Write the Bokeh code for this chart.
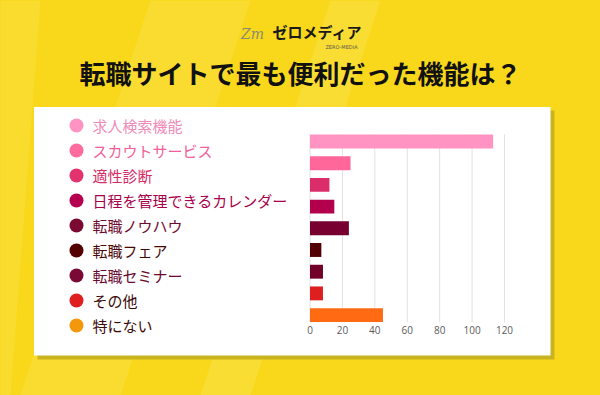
from bokeh.plotting import figure
from bokeh.models import Range1d
from bokeh.core.properties import value
from bokeh.embed import file_html
from bokeh.resources import INLINE

# ---- data ----
categories = ["求人検索機能", "スカウトサービス", "適性診断", "日程を管理できるカレンダー",
              "転職ノウハウ", "転職フェア", "転職セミナー", "その他", "特にない"]
counts = [113, 25, 12, 15, 24, 7, 8, 8, 45]
bar_colors = ["#FF94C2", "#FF6699", "#DC2D6B", "#B3004D", "#780030",
              "#530005", "#700028", "#DD1F1F", "#FF6A12"]
legend_colors = ["#FF94C2", "#FF6B9D", "#E3336F", "#B5004F", "#7B0A32",
                 "#520000", "#7A0A35", "#E02020", "#F3980C"]
text_colors = ["#F08AB8", "#F0609A", "#D42C68", "#A8004A", "#6E0A2E",
               "#4A0505", "#6A0A30", "#3A0A0A", "#3A0A0A"]
tick_values = [0, 20, 40, 60, 80, 100, 120]
tick_labels = [str(t) for t in tick_values]
title_text = "転職サイトで最も便利だった機能は？"

JP = value("Noto Sans CJK JP")
BG = "#F9D81C"
W, H = 600, 395

# page coordinates for decoration
p = figure(width=W, height=H, output_backend="svg", toolbar_location=None,
           x_range=Range1d(0, W), y_range=Range1d(H, 0),
           min_border=0, background_fill_color=BG, border_fill_color=BG)
p.axis.visible = False
p.grid.visible = False
p.outline_line_color = None

# scales for the chart itself
x0_px, x120_px = 309.5, 504.0
px_per_unit = (x120_px - x0_px) / 120
bar_first, bar_step = 141.0, 21.7
leg_first, leg_step = 125.0, 25.0
p.extra_x_ranges = {"vx": Range1d(-x0_px / px_per_unit, (W - x0_px) / px_per_unit)}
p.extra_y_ranges = {
    "vy": Range1d((H - bar_first) / bar_step, -bar_first / bar_step),
    "ly": Range1d((H - leg_first) / leg_step, -leg_first / leg_step),
}

# background light streaks
p.patch([150, 250, 120, 20], [0, 0, 395, 395], color="#FDE65A", alpha=0.35, line_color=None)
p.patch([330, 380, 250, 200], [0, 0, 395, 395], color="#FDE868", alpha=0.3, line_color=None)
p.patch([-40, 40, 10, -70], [0, 0, 395, 395], color="#FDE45A", alpha=0.3, line_color=None)

# card with shadow
p.quad(left=37, right=554, top=110, bottom=359, color="#C9B31E", line_color=None)
p.quad(left=33.5, right=550, top=106.5, bottom=355, color="white", line_color=None)

# title and logo
p.text(x=[300], y=[72], text=[title_text], text_font=JP, text_font_size="26px",
       text_font_style="bold", text_color="#111111", text_align="center",
       text_baseline="middle")
p.text(x=[252], y=[33], text=["Zm"], text_font=value("DejaVu Serif"),
       text_font_size="14px", text_font_style="italic", text_color="#8A8A70",
       text_align="center", text_baseline="middle")
p.text(x=[317], y=[31], text=["ゼロメディア"], text_font=JP, text_font_size="15px",
       text_font_style="bold", text_color="#1A1A1A", text_align="center",
       text_baseline="middle")
p.text(x=[341], y=[46], text=["ZERO-MEDIA"], text_font=value("DejaVu Sans"),
       text_font_size="5px", text_color="#555555", text_align="center",
       text_baseline="middle")

idx = list(range(len(categories)))

# gridlines
p.segment(x0=tick_values, x1=tick_values, y0=[-0.33] * len(tick_values),
          y1=[len(categories) - 0.67] * len(tick_values), line_color="#E2E2E2",
          line_width=1, x_range_name="vx", y_range_name="vy")

# bars
p.hbar(y=idx, left=0, right=counts, height=0.64, color=bar_colors, line_color=None,
       x_range_name="vx", y_range_name="vy")

# tick labels
p.text(x=tick_values, y=[len(categories) - 0.31] * len(tick_values), text=tick_labels,
       text_font=value("Open Sans"), text_font_size="10px", text_color="#5A5A5A",
       text_align="center", text_baseline="middle", x_range_name="vx", y_range_name="vy")

# legend
p.scatter(x=[76] * len(categories), y=idx, size=14, color=legend_colors, line_color=None,
          y_range_name="ly")
p.text(x=[92] * len(categories), y=idx, text=categories, text_color=text_colors,
       text_font=JP, text_font_size="15px", text_align="left", text_baseline="middle",
       y_range_name="ly")

html = file_html(p, INLINE)
html = html.replace("<head>", "<head><style>html,body{background:%s;overflow:hidden;}</style>" % BG, 1)
open("out.html", "w").write(html)
